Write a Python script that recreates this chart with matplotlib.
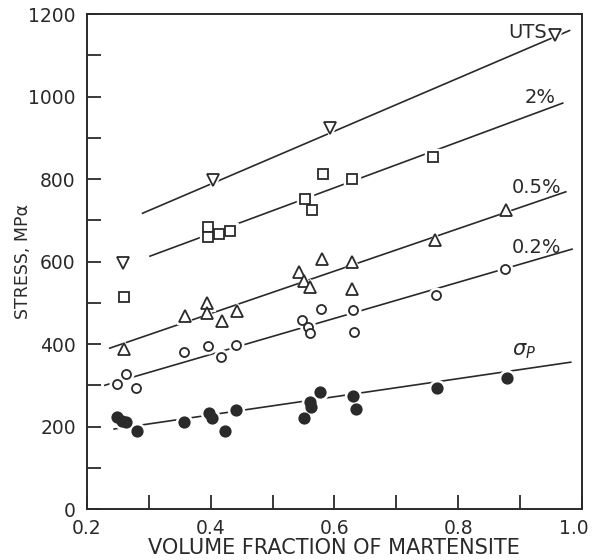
import matplotlib.pyplot as plt
import matplotlib.transforms as mtransforms
from matplotlib.ticker import MultipleLocator, FixedLocator

# UTS (open down-triangles)
uts_x = [0.258, 0.404, 0.593, 0.956]
uts_y = [596, 798, 924, 1149]
uts_line_x = [0.29, 0.98]
uts_line_y = [717, 1160]

# 2% flow stress (open squares)
p2_x = [0.260, 0.396, 0.396, 0.413, 0.431, 0.552, 0.564, 0.581, 0.628, 0.759]
p2_y = [514, 683, 659, 667, 674, 752, 725, 812, 800, 853]
p2_line_x = [0.302, 0.969]
p2_line_y = [613, 984]

# 0.5% flow stress (open up-triangles)
p05_x = [0.260, 0.358, 0.394, 0.394, 0.418, 0.442, 0.543, 0.551, 0.560,
         0.580, 0.628, 0.628, 0.762, 0.877]
p05_y = [388, 468, 499, 475, 456, 480, 575, 553, 538, 606, 599, 533, 652, 725]
p05_line_x = [0.237, 0.974]
p05_line_y = [390, 769]

# 0.2% flow stress (open circles)
p02_x = [0.248, 0.263, 0.279, 0.357, 0.396, 0.417, 0.441, 0.547, 0.557,
         0.560, 0.578, 0.630, 0.632, 0.765, 0.876]
p02_y = [303, 327, 293, 381, 395, 368, 398, 458, 441, 427, 485, 482, 429, 519, 581]
p02_line_x = [0.229, 0.984]
p02_line_y = [300, 630]

# proportional limit (filled circles)
sp_x = [0.248, 0.257, 0.263, 0.281, 0.357, 0.397, 0.402, 0.423, 0.441,
        0.551, 0.560, 0.562, 0.577, 0.630, 0.635, 0.766, 0.879]
sp_y = [223, 213, 211, 189, 211, 233, 221, 189, 240,
        221, 259, 247, 284, 274, 242, 293, 318]
sp_line_x = [0.244, 0.982]
sp_line_y = [194, 356]

x_ticks = [0.2, 0.4, 0.6, 0.8, 1.0]
x_ticklabels = ['0.2', '0.4', '0.6', '0.8', '1.0']

ink = '#2a2a2a'

fig = plt.figure(figsize=(5.95, 5.6), dpi=100)
ax = fig.add_axes([0.146, 0.091, 0.832, 0.884])


def draw_set(xs, ys, lx, ly, marker, ms, filled=False):
    ax.plot(lx, ly, color=ink, lw=1.2, zorder=1)
    # white halo so the line breaks around each marker
    ax.plot(xs, ys, ls='none', marker=marker, ms=ms + 4, mfc='white',
            mec='white', zorder=2)
    ax.plot(xs, ys, ls='none', marker=marker, ms=ms,
            mfc=ink if filled else 'white', mec=ink, mew=1.3, zorder=3)


draw_set(uts_x, uts_y, uts_line_x, uts_line_y, 'v', 9)
draw_set(p2_x, p2_y, p2_line_x, p2_line_y, 's', 7.5)
draw_set(p05_x, p05_y, p05_line_x, p05_line_y, '^', 8)
draw_set(p02_x, p02_y, p02_line_x, p02_line_y, 'o', 6.5)
draw_set(sp_x, sp_y, sp_line_x, sp_line_y, 'o', 7.5, filled=True)

lab = dict(color=ink, fontsize=14, zorder=4)
ax.text(0.944, 1154, 'UTS', ha='right', va='center', **lab)
ax.text(0.932, 998, '2%', ha='center', va='center', **lab)
ax.text(0.926, 780, '0.5%', ha='center', va='center', **lab)
ax.text(0.926, 635, '0.2%', ha='center', va='center', **lab)
ax.text(0.907, 383, r'$\sigma_P$', ha='center', va='center', color=ink,
        fontsize=15, zorder=4)

ax.set_xlim(0.2, 1.0)
ax.set_ylim(0, 1200)
ax.xaxis.set_major_locator(FixedLocator(x_ticks))
ax.xaxis.set_minor_locator(MultipleLocator(0.1))
ax.yaxis.set_major_locator(MultipleLocator(200))
ax.yaxis.set_minor_locator(MultipleLocator(100))
ax.set_xticklabels(x_ticklabels)
ax.tick_params(which='both', direction='in', length=10, width=1.3,
               color=ink, top=False, right=False)
ax.tick_params(which='major', labelsize=13.5, labelcolor=ink)
ax.tick_params(axis='x', which='major', pad=7)
ax.tick_params(axis='y', which='major', pad=8)
for s in ax.spines.values():
    s.set_linewidth(1.4)
    s.set_color(ink)

# keep the last x label inside the figure edge
last = ax.get_xticklabels()[-1]
last.set_transform(last.get_transform() +
                   mtransforms.ScaledTranslation(-6 / 72, 0, fig.dpi_scale_trans))

ax.set_xlabel('VOLUME FRACTION OF MARTENSITE', fontsize=15, color=ink,
              labelpad=0)
ax.set_ylabel('STRESS, MPα', fontsize=12.5, color=ink)
ax.yaxis.set_label_coords(-0.11, 0.5)

fig.savefig('out.png', dpi=100)
